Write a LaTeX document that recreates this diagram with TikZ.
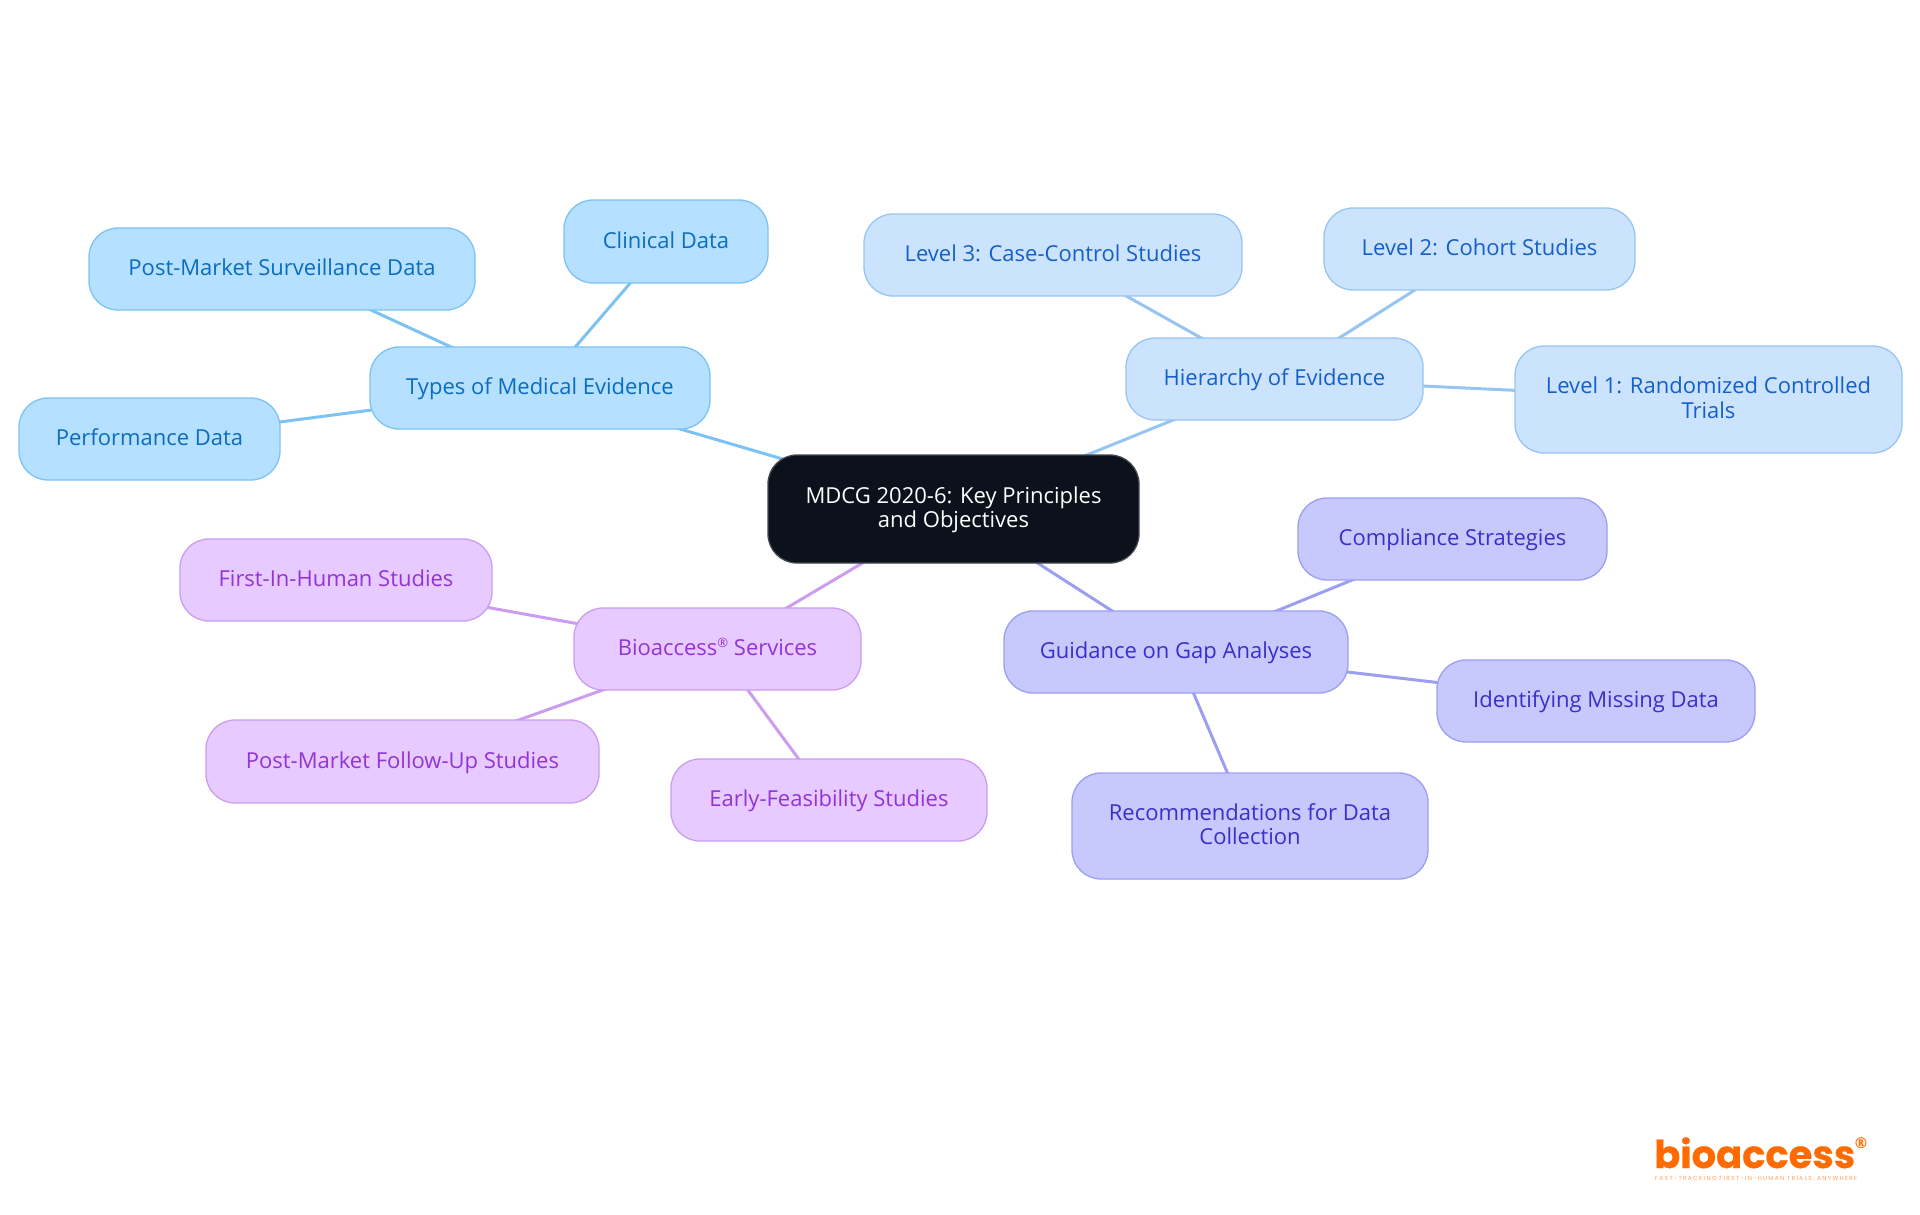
\documentclass[tikz,border=0pt]{standalone}
\usepackage{fontspec}
\setmainfont{Open Sans}
\newfontfamily\logofont[BoldFeatures={FakeBold=0.5}]{Poppins}
\newfontfamily\tagfont[LetterSpace=22]{Poppins}
\newfontfamily\regfont{Open Sans}
\usetikzlibrary{backgrounds}
\definecolor{skyF}{HTML}{B5E0FF}\definecolor{skyD}{HTML}{7CC3F3}\definecolor{skyT}{HTML}{0B6CC0}
\definecolor{palF}{HTML}{CCE3FD}\definecolor{palD}{HTML}{97C5F3}\definecolor{palT}{HTML}{155FC8}
\definecolor{indF}{HTML}{C7C9FD}\definecolor{indD}{HTML}{9C9EF2}\definecolor{indT}{HTML}{3830C9}
\definecolor{purF}{HTML}{E7CAFF}\definecolor{purD}{HTML}{CB9CF0}\definecolor{purT}{HTML}{9234D6}
\definecolor{rootF}{HTML}{0B121B}\definecolor{rootD}{HTML}{44484E}
\definecolor{logoC}{HTML}{FF6B00}\definecolor{logoL}{HTML}{FF9F5C}
\tikzset{
  box/.style={rounded corners=29pt,line width=1.3pt,align=center,inner sep=0pt,font=\fontsize{22}{24.5}\selectfont},
  sky/.style={box,draw=skyD,fill=skyF,text=skyT},
  pal/.style={box,draw=palD,fill=palF,text=palT},
  ind/.style={box,draw=indD,fill=indF,text=indT},
  pur/.style={box,draw=purD,fill=purF,text=purT},
  rootbox/.style={box,draw=rootD,fill=rootF,text=white},
  skyE/.style={draw=skyD,line width=3pt},
  palE/.style={draw=palD,line width=3pt},
  indE/.style={draw=indD,line width=3pt},
  purE/.style={draw=purD,line width=3pt},
}
\newcommand{\topst}{\rule{0pt}{19pt}}
\newcommand{\botst}{\rule[-6pt]{0pt}{6pt}}
\newcommand{\bx}[7]{% style,name,x0,x1,y0,y1,text
  \pgfmathsetmacro{\bxcx}{(#3+#4)/2}\pgfmathsetmacro{\bxcy}{(#5+#6)/2}
  \pgfmathsetmacro{\bxw}{#4-#3}\pgfmathsetmacro{\bxh}{#6-#5}
  \node[#1,minimum width=\bxw pt,minimum height=\bxh pt] (#2) at (\bxcx,-\bxcy) {\topst #7\botst};}
\begin{document}
\begin{tikzpicture}[x=1pt,y=1pt]
\useasboundingbox (0,0) rectangle (1920,-1215);
\bx{rootbox}{root}{768}{1139}{455}{563}{MDCG 2020-6: Key Principles\\and Objectives}
\bx{sky}{types}{370}{710}{347}{429}{Types of Medical Evidence}
\bx{sky}{pms}{89}{475}{228}{310}{Post-Market Surveillance Data}
\bx{sky}{clin}{564}{768}{200}{283}{Clinical Data}
\bx{sky}{perf}{19}{280}{398}{480}{Performance Data}
\bx{pal}{hier}{1126}{1423}{338}{420}{Hierarchy of Evidence}
\bx{pal}{lthree}{864}{1242}{214}{296}{Level 3: Case-Control Studies}
\bx{pal}{ltwo}{1324}{1635}{208}{290}{Level 2: Cohort Studies}
\bx{pal}{lone}{1515}{1902}{346}{453}{Level 1: Randomized Controlled\\Trials}
\bx{ind}{guid}{1004}{1348}{611}{693}{Guidance on Gap Analyses}
\bx{ind}{comp}{1298}{1607}{498}{580}{Compliance Strategies}
\bx{ind}{miss}{1437}{1755}{660}{742}{Identifying Missing Data}
\bx{ind}{recs}{1072}{1428}{773}{879}{Recommendations for Data\\Collection}
\bx{pur}{bio}{574}{861}{608}{690}{Bioaccess\raisebox{.38em}{\fontsize{13}{13}\selectfont ®} Services}
\bx{pur}{first}{180}{492}{539}{621}{First-In-Human Studies}
\bx{pur}{pmf}{206}{599}{720}{803}{Post-Market Follow-Up Studies}
\bx{pur}{early}{671}{987}{759}{841}{Early-Feasibility Studies}
\begin{scope}[on background layer]
\draw[skyE] (root.center)--(types.center);
\draw[skyE] (types.center)--(pms.center);
\draw[skyE] (types.center)--(clin.center);
\draw[skyE] (types.center)--(perf.center);
\draw[palE] (root.center)--(hier.center);
\draw[palE] (hier.center)--(lthree.center);
\draw[palE] (hier.center)--(ltwo.center);
\draw[palE] (hier.center)--(lone.center);
\draw[indE] (root.center)--(guid.center);
\draw[indE] (guid.center)--(comp.center);
\draw[indE] (guid.center)--(miss.center);
\draw[indE] (guid.center)--(recs.center);
\draw[purE] (root.center)--(bio.center);
\draw[purE] (bio.center)--(first.center);
\draw[purE] (bio.center)--(pmf.center);
\draw[purE] (bio.center)--(early.center);
\end{scope}
\node[inner sep=0pt,anchor=base west,text=logoC] (logo) at (1654,-1168) {\resizebox{201pt}{!}{\logofont\bfseries bioaccess}};
\node[inner sep=0pt,anchor=center,text=logoC,font=\regfont\bfseries\fontsize{15}{15}\selectfont] (reg) at (1861,-1143) {®};
\node[inner sep=0pt,anchor=base west,text=logoL] (tag) at (1655,-1180) {\resizebox{202pt}{!}{\tagfont FAST-TRACKING FIRST-IN-HUMAN TRIALS, ANYWHERE}};
\end{tikzpicture}
\end{document}
